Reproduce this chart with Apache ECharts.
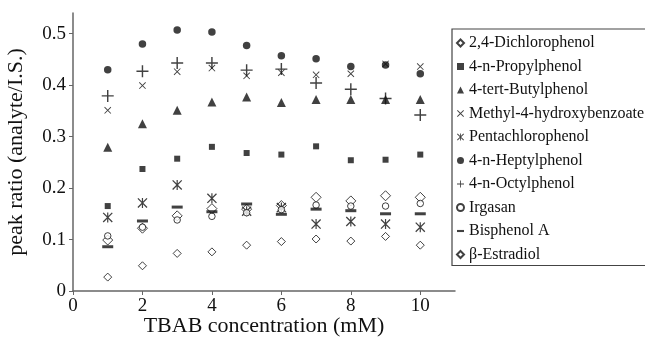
<!DOCTYPE html>
<html>
<head>
<meta charset="utf-8">
<script src="https://cdn.jsdelivr.net/npm/echarts@6/dist/echarts.min.js"></script>
<style>
  html, body { margin: 0; background: #fff; }
  #main { width: 645px; height: 340px; }
</style>
</head>
<body>
<div id="main"></div>
<script>
const xData = [1, 2, 3, 4, 5, 6, 7, 8, 9, 10]
const legends = ['2,4-Dichlorophenol', '4-n-Propylphenol', '4-tert-Butylphenol', 'Methyl-4-hydroxybenzoate',
  'Pentachlorophenol', '4-n-Heptylphenol', '4-n-Octylphenol', 'Irgasan', 'Bisphenol A', 'β-Estradiol']

const dichloro = [0.099, 0.122, 0.146, 0.160, 0.159, 0.166, 0.182, 0.175, 0.185, 0.182]
const propyl = [0.165, 0.237, 0.257, 0.280, 0.268, 0.265, 0.281, 0.254, 0.255, 0.265]
const butyl = [0.279, 0.325, 0.351, 0.367, 0.377, 0.366, 0.372, 0.372, 0.372, 0.372]
const methyl = [0.351, 0.399, 0.426, 0.433, 0.418, 0.424, 0.420, 0.422, 0.441, 0.436]
const pentachloro = [0.143, 0.171, 0.206, 0.180, 0.155, 0.162, 0.130, 0.135, 0.130, 0.124]
const heptyl = [0.430, 0.480, 0.507, 0.503, 0.477, 0.457, 0.451, 0.436, 0.439, 0.422]
const octyl = [0.379, 0.427, 0.443, 0.443, 0.429, 0.431, 0.404, 0.392, 0.374, 0.342]
const irgasan = [0.107, 0.124, 0.138, 0.145, 0.152, 0.158, 0.167, 0.165, 0.165, 0.170]
const bisphenol = [0.086, 0.136, 0.163, 0.154, 0.169, 0.149, 0.159, 0.156, 0.150, 0.150]
const estradiol = [0.027, 0.049, 0.073, 0.076, 0.089, 0.096, 0.101, 0.097, 0.106, 0.089]

const xTicks = [0, 2, 4, 6, 8, 10]
const yTicks = [0, 0.1, 0.2, 0.3, 0.4, 0.5]

// symbols
const plus = 'path://M0,4.4H10V5.6H0Z M4.4,0H5.6V10H4.4Z'
const times = 'path://M0.9,0L10,9.1L9.1,10L0,0.9Z M9.1,0L10,0.9L0.9,10L0,9.1Z'
const star = 'path://M0.9,0L10,9.1L9.1,10L0,0.9Z M9.1,0L10,0.9L0.9,10L0,9.1Z M4.4,0H5.6V10H4.4Z'
const dash = 'path://M0,0H10V3H0Z'

const ink = '#111'
const font = 'Liberation Serif'
const solid = { color: ink }
const hollow = { color: '#fff', borderColor: ink, borderWidth: 1 }

function pts(arr) {
  return arr.map((v, i) => [xData[i], v])
}

function mk(name, data, symbol, size, style) {
  return { name, type: 'scatter', data: pts(data), symbol, symbolSize: size, itemStyle: style, z: 3 }
}

const option = {
  animation: false,
  grid: { left: 73, right: 190, top: 13, bottom: 49, outerBoundsMode: 'none' },
  legend: {
    orient: 'vertical',
    left: 452,
    top: 29,
    padding: [6, 3, 3, 4],
    itemGap: 7.5,
    itemWidth: 7,
    itemHeight: 7,
    borderColor: '#444',
    borderWidth: 1.2,
    textStyle: { fontFamily: font, fontSize: 16, lineHeight: 16, color: '#111' },
    data: legends
  },
  xAxis: {
    type: 'value',
    min: 0,
    max: 11,
    name: 'TBAB concentration (mM)',
    nameLocation: 'middle',
    nameGap: 24,
    nameMoveOverlap: false,
    nameTextStyle: { fontFamily: font, fontSize: 22, color: '#111' },
    axisLine: { show: true, lineStyle: { color: '#666', width: 1.5 } },
    axisTick: { show: true, customValues: xTicks, length: 4, lineStyle: { color: '#666' } },
    axisLabel: { customValues: xTicks, fontFamily: font, fontSize: 19, color: '#111', margin: 6 },
    splitLine: { show: false }
  },
  yAxis: {
    type: 'value',
    min: 0,
    max: 0.54,
    name: 'peak ratio (analyte/I.S.)',
    nameLocation: 'middle',
    nameGap: 46,
    nameTextStyle: { fontFamily: font, fontSize: 22, color: '#111' },
    axisLine: { show: true, lineStyle: { color: '#666', width: 1.5 } },
    axisTick: { show: true, customValues: yTicks, length: 4, lineStyle: { color: '#666' } },
    axisLabel: { customValues: yTicks, fontFamily: font, fontSize: 19, color: '#111', margin: 7 },
    splitLine: { show: false }
  },
  series: [
    mk(legends[0], dichloro, 'diamond', 10, hollow),
    mk(legends[1], propyl, 'rect', 6, solid),
    mk(legends[2], butyl, 'triangle', 9, solid),
    mk(legends[3], methyl, times, 7, solid),
    mk(legends[4], pentachloro, star, 10, solid),
    mk(legends[5], heptyl, 'circle', 7.5, solid),
    mk(legends[6], octyl, plus, 12, solid),
    mk(legends[7], irgasan, 'circle', 6.5, hollow),
    mk(legends[8], bisphenol, dash, [11, 3], solid),
    mk(legends[9], estradiol, 'diamond', 8, hollow)
  ]
}

const myChart = echarts.init(document.getElementById('main'))
myChart.setOption(option)
</script>
</body>
</html>
